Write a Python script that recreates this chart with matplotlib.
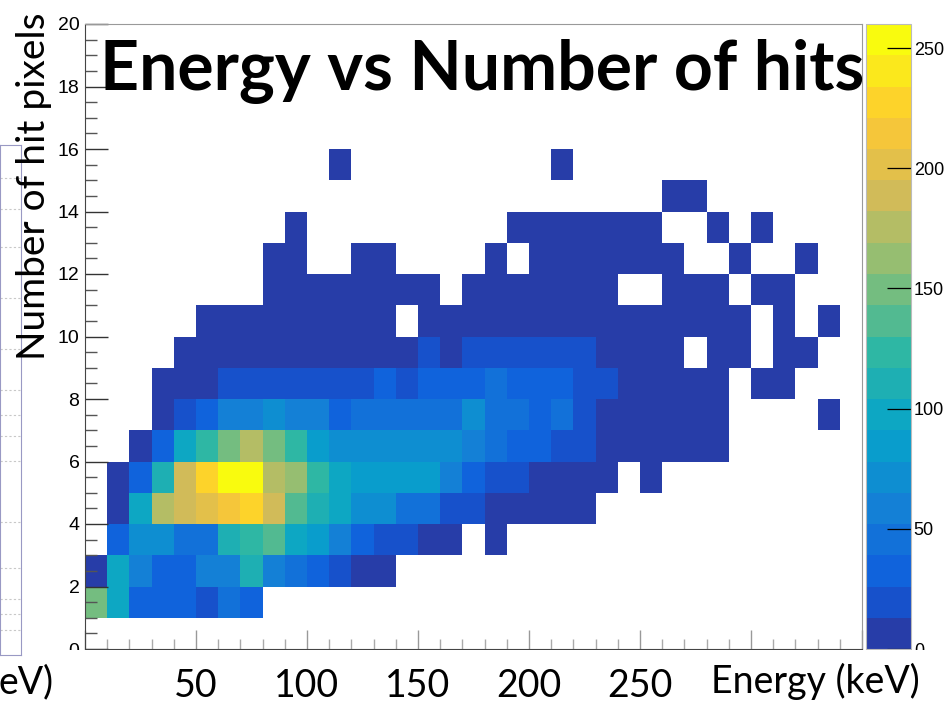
import matplotlib
matplotlib.use("Agg")
import matplotlib.pyplot as plt
import numpy as np
from matplotlib.colors import LinearSegmentedColormap, ListedColormap, BoundaryNorm
from matplotlib.patches import Rectangle
from matplotlib.ticker import MultipleLocator

# histogram binning: 10 keV energy bins, 1 pixel hit bins
energy_edges = np.arange(0, 351, 10)
hit_edges = np.arange(0, 21, 1)

# counts per energy bin, one list per number of hit pixels
hits_00 = [0] * 35
hits_01 = [150, 97, 32, 33, 31, 20, 45, 34] + [0] * 27
hits_02 = [8, 96, 62, 35, 34, 52, 55, 110, 62, 46, 35, 20, 9, 7] + [0] * 21
hits_03 = [0, 35, 70, 70, 46, 46, 110, 124, 138, 98, 85, 52, 35, 20, 19, 8, 6, 0, 3] + [0] * 16
hits_04 = [0, 7, 95, 178, 190, 198, 215, 228, 192, 138, 110, 95, 72, 70, 46, 46, 20, 20,
           8, 6, 5, 4, 3] + [0] * 12
hits_05 = [0, 8, 32, 112, 190, 230, 258, 254, 180, 165, 124, 97, 85, 84, 84, 80, 55, 35,
           20, 19, 8, 6, 5, 4, 0, 2] + [0] * 9
hits_06 = [0, 0, 6, 32, 95, 124, 150, 180, 152, 125, 84, 70, 71, 70, 72, 70, 68, 58, 46,
           35, 34, 20, 19, 10, 8, 7, 5, 4, 3] + [0] * 6
hits_07 = [0, 0, 0, 8, 20, 33, 58, 58, 65, 58, 57, 35, 45, 46, 45, 47, 45, 68, 46, 44, 35,
           45, 20, 9, 7, 6, 5, 4, 3, 0, 0, 0, 0, 1, 0]
hits_08 = [0, 0, 0, 6, 8, 9, 20, 21, 22, 20, 19, 21, 20, 32, 22, 33, 32, 33, 42, 34, 33,
           32, 22, 20, 10, 9, 7, 6, 4, 0, 3, 2, 0, 0, 0]
hits_09 = [0, 0, 0, 0, 3, 5, 7, 9, 10, 11, 12, 11, 10, 12, 12, 16, 12, 17, 18, 19, 18, 17,
           16, 9, 7, 5, 3, 0, 2, 2, 0, 1, 1, 0, 0]
hits_10 = [0, 0, 0, 0, 0, 2, 3, 4, 5, 6, 6, 7, 6, 5, 0, 6, 7, 8, 8, 9, 9, 8, 8, 6, 5, 4,
           3, 2, 2, 1, 0, 1, 0, 1, 0]
hits_11 = [0, 0, 0, 0, 0, 0, 0, 0, 2, 2, 3, 4, 3, 3, 2, 3, 0, 4, 4, 5, 4, 4, 3, 2, 0, 0,
           2, 1, 1, 0, 1, 1, 0, 0, 0]
hits_12 = [0] * 8 + [1, 2, 0, 0, 1, 2, 0, 0, 0, 0, 1, 0, 2, 3, 2, 2, 2, 1, 1, 0, 0, 1, 0,
                    0, 1, 0, 0]
hits_13 = [0] * 9 + [1] + [0] * 9 + [1, 2, 1, 2, 1, 1, 1] + [0, 0, 1, 0, 1] + [0] * 4
hits_14 = [0] * 26 + [1, 1] + [0] * 7
hits_15 = [0] * 11 + [1] + [0] * 9 + [1] + [0] * 13
hits_16 = [0] * 35
hits_17 = [0] * 35
hits_18 = [0] * 35
hits_19 = [0] * 35

counts = np.array([hits_00, hits_01, hits_02, hits_03, hits_04, hits_05, hits_06, hits_07,
                   hits_08, hits_09, hits_10, hits_11, hits_12, hits_13, hits_14, hits_15,
                   hits_16, hits_17, hits_18, hits_19], dtype=float)

z_max = 260
n_contours = 20
cbar_ticks = [0, 50, 100, 150, 200, 250]
energy_ticks = [0, 50, 100, 150, 200, 250, 300, 350]
energy_labels = ["", "50", "100", "150", "200", "250", "", ""]
hit_ticks = list(range(0, 21, 2))

# ROOT kBird palette
bird_stops = [0.0, 0.125, 0.25, 0.375, 0.5, 0.625, 0.75, 0.875, 1.0]
bird_r = [0.2082, 0.0592, 0.0780, 0.0232, 0.1802, 0.5301, 0.8186, 0.9956, 0.9764]
bird_g = [0.1664, 0.3599, 0.5041, 0.6419, 0.7178, 0.7492, 0.7328, 0.7862, 0.9832]
bird_b = [0.5293, 0.8684, 0.8385, 0.7914, 0.6425, 0.4662, 0.3499, 0.1968, 0.0539]
bird = LinearSegmentedColormap.from_list(
    "bird", list(zip(bird_stops, zip(bird_r, bird_g, bird_b))), N=255)
# colour picked for each contour band the same way COLZ does it
band_pos = [int((i + 0.99) * 255 / n_contours) / 254 for i in range(n_contours)]
cmap = ListedColormap([bird(p) for p in band_pos])
cmap.set_bad("white")
norm = BoundaryNorm(np.linspace(0, z_max, n_contours + 1), n_contours)

W, H = 947, 704
fig = plt.figure(figsize=(W / 100, H / 100), dpi=100)
rect = [85 / W, (H - 649) / H, (862 - 85) / W, (649 - 24) / H]
ax = fig.add_axes(rect)

mesh = ax.pcolormesh(energy_edges, hit_edges, np.ma.masked_equal(counts, 0),
                     cmap=cmap, norm=norm, edgecolors="none", antialiased=False)
ax.set_xlim(0, 350)
ax.set_ylim(0, 20)

narrow = ["Liberation Sans Narrow", "Liberation Sans"]

ax.set_yticks(hit_ticks)
ax.yaxis.set_minor_locator(MultipleLocator(0.5))
ax.set_yticklabels([str(t) for t in hit_ticks], family=narrow, fontsize=14)
ax.tick_params(axis="y", which="major", direction="in", length=16.5, width=1.0,
               color="#333333", pad=4)
ax.tick_params(axis="y", which="minor", direction="in", length=8.6, width=1.0,
               color="#555555")

ax.set_xticks(energy_ticks)
ax.set_xticklabels([])
ax.xaxis.set_minor_locator(MultipleLocator(10))
ax.tick_params(axis="x", which="major", direction="in", length=13.7, width=1.0,
               color="#999999")
ax.tick_params(axis="x", which="minor", direction="in", length=7.2, width=1.0,
               color="#aaaaaa")

for side in ["left", "bottom"]:
    ax.spines[side].set_color("#444444")
for side in ["top", "right"]:
    ax.spines[side].set_color("#999999")

# palette on the right
cax = fig.add_axes([866 / W, (H - 649) / H, 45 / W, (649 - 24) / H])
cbar = fig.colorbar(mesh, cax=cax, ticks=cbar_ticks)
cbar.outline.set_edgecolor("#bbbbbb")
cbar.outline.set_linewidth(0.8)
cax.tick_params(direction="in", length=17, width=0.9, color="black", pad=2)
cax.set_yticklabels([str(t) for t in cbar_ticks], family=narrow, fontsize=13)
cax.minorticks_off()

# second frame of the neighbouring plot, cut at the left edge
side_ax = fig.add_axes([0, 1 - 655 / H, 21 / W, (655 - 145) / H])
side_ax.set_xlim(0, 1)
side_ax.set_ylim(0, 1)
side_ax.set_xticks([])
side_ax.set_yticks([])
for s in side_ax.spines.values():
    s.set_color("#9999c4")
for gy in [0.05, 0.08, 0.11, 0.17, 0.26, 0.38, 0.43, 0.47, 0.52, 0.6, 0.7, 0.8, 0.875, 0.935]:
    side_ax.axhline(gy, color="#c8c8c8", lw=0.8, ls=(0, (2, 2)))

# white text box that hides the bottom of the frame labels
fig.patches.append(Rectangle((40 / W, 0), 1 - 40 / W, (H - 650) / H,
                             transform=fig.transFigure, facecolor="white",
                             edgecolor="none", zorder=1))

# energy labels drawn on top of the box, on an overlay sharing the x scale
lab_ax = fig.add_axes(rect, sharex=ax, zorder=2)
lab_ax.patch.set_visible(False)
for s in lab_ax.spines.values():
    s.set_visible(False)
lab_ax.set_yticks([])
lab_ax.set_xticks(energy_ticks)
lab_ax.set_xticklabels(energy_labels, family="Lato", fontsize=27)
lab_ax.tick_params(axis="x", which="both", length=0, pad=14)
lab_ax.xaxis.set_minor_locator(MultipleLocator(10))

fig.text(711 / W, 1 - 693 / H, "Energy (keV)", family="Lato", fontsize=27,
         va="baseline", ha="left", zorder=3)
fig.text(-1 / W, 1 - 693 / H, "eV)", family="Lato", fontsize=27,
         va="baseline", ha="left", zorder=3)

fig.text(34 / W, 1 - 186 / H, "Number of hit pixels", family="Lato", fontsize=28,
         rotation=90, ha="center", va="center", zorder=3)
fig.text(100 / W, 1 - 90 / H, "Energy vs Number of hits", family="Lato",
         weight="bold", fontsize=49, ha="left", va="baseline", zorder=5)

fig.savefig("out.png", dpi=100)
